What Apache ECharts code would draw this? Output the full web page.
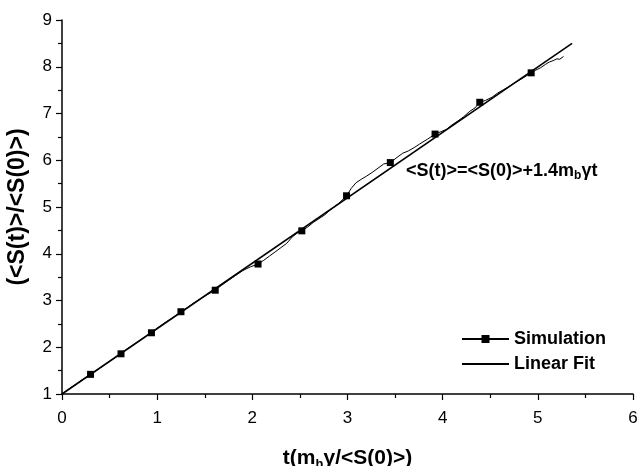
<!DOCTYPE html>
<html><head><meta charset="utf-8">
<script src="https://cdn.jsdelivr.net/npm/echarts@6/dist/echarts.min.js"></script>
<style>html,body{margin:0;padding:0;background:#fff}#c{width:639px;height:466px}</style>
</head><body><div id="c"></div>
<script>
// Simulation curve
const simT = [0,0.05,0.10,0.15,0.20,0.25,0.30,0.36,0.42,0.48,0.55,0.62,0.68,0.74,0.80,0.87,0.94,1.00,1.05,1.10,1.17,1.25,1.32,1.38,1.45,1.53,1.61,1.68,1.75,1.82,1.90,1.98,2.06,2.12,2.18,2.24,2.30,2.36,2.42,2.47,2.52,2.58,2.64,2.70,2.76,2.82,2.90,2.99,3.04,3.09,3.15,3.20,3.26,3.32,3.38,3.45,3.52,3.58,3.64,3.70,3.76,3.84,3.92,3.98,4.04,4.10,4.16,4.22,4.28,4.34,4.39,4.45,4.52,4.58,4.64,4.70,4.76,4.83,4.93,4.98,5.03,5.08,5.12,5.16,5.20,5.23,5.27];
const simS = [1.00,1.07,1.15,1.21,1.29,1.35,1.42,1.50,1.59,1.67,1.77,1.86,1.96,2.04,2.12,2.22,2.31,2.41,2.48,2.55,2.64,2.76,2.85,2.94,3.03,3.13,3.22,3.33,3.43,3.53,3.64,3.72,3.78,3.86,3.95,4.04,4.13,4.22,4.36,4.44,4.49,4.57,4.67,4.75,4.83,4.94,5.06,5.24,5.40,5.52,5.60,5.66,5.74,5.83,5.92,5.95,6.06,6.15,6.20,6.27,6.35,6.45,6.56,6.61,6.66,6.76,6.84,6.93,7.04,7.12,7.24,7.28,7.35,7.44,7.51,7.58,7.66,7.74,7.87,7.93,7.98,8.05,8.10,8.13,8.17,8.16,8.22];
// t values where the simulation carries a square marker
const markerT = [0.30,0.62,0.94,1.25,1.61,2.06,2.52,2.99,3.45,3.92,4.39,4.93];
// Linear fit endpoints
const fitT = [0, 5.36];
const fitS = [1.0, 8.50];
// Axis ticks
const xTicks = {min:0, max:6, interval:1};
const yTicks = {min:1, max:9, interval:1};

const F = '"Liberation Sans", Arial, sans-serif';
const simData = simT.map((t,i) => markerT.indexOf(t) >= 0 ? {value:[t, simS[i]]} : {value:[t, simS[i]], symbol:'none'});
const fitData = fitT.map((t,i) => [t, fitS[i]]);

const chart = echarts.init(document.getElementById('c'), null, {renderer:'canvas'});
const axisCommon = {
  axisLine:{show:true, lineStyle:{color:'#000', width:1.5}},
  axisTick:{show:true, inside:false, length:6, lineStyle:{color:'#000', width:1.2}},
  minorTick:{show:true, splitNumber:2, length:4, lineStyle:{color:'#000', width:1.2}},
  splitLine:{show:false},
  axisLabel:{color:'#000', fontFamily:F, fontSize:17}
};
chart.setOption({
  animation:false,
  backgroundColor:'#fff',
  grid:{left:62, right:6, top:20, bottom:72, containLabel:false, outerBoundsMode:'none'},
  xAxis:Object.assign({type:'value', min:xTicks.min, max:xTicks.max, interval:xTicks.interval,
    name:'{a|t(m}{s|h}{a|γ/<S(0)>)}', nameLocation:'middle', nameGap:52,
    nameTextStyle:{rich:{a:{fontFamily:F, fontWeight:'bold', fontSize:21, color:'#000'}, s:{fontFamily:F, fontWeight:'bold', fontSize:13, color:'#000', padding:[12,0,0,0]}}}
  }, axisCommon, {axisLabel:Object.assign({}, axisCommon.axisLabel, {margin:16, showMaxLabel:true})}),
  yAxis:Object.assign({type:'value', min:yTicks.min, max:yTicks.max, interval:yTicks.interval,
    name:'(<S(t)>/<S(0)>)', nameLocation:'middle', nameGap:33, nameRotate:90,
    nameTextStyle:{fontFamily:F, fontWeight:'bold', fontSize:23, color:'#000'}
  }, axisCommon, {axisLabel:Object.assign({}, axisCommon.axisLabel, {margin:10})}),
  legend:{
    orient:'vertical', left:456, top:325, itemWidth:47, itemHeight:10, itemGap:7,
    textStyle:{fontFamily:F, fontWeight:'bold', fontSize:18, color:'#000'},
    data:['Simulation','Linear Fit']
  },
  graphic:[{
    type:'text', left:406, top:162,
    style:{text:'{a|<S(t)>=<S(0)>+1.4m}{s|b}{a|γt}', rich:{a:{fontFamily:F, fontWeight:'bold', fontSize:18, fill:'#000'}, s:{fontFamily:F, fontWeight:'bold', fontSize:12, fill:'#000', padding:[10,0,0,0]}}}
  }],
  series:[
    {name:'Simulation', type:'line', data:simData, symbol:'rect', symbolSize:7, showSymbol:true,
     lineStyle:{color:'#000', width:1}, itemStyle:{color:'#000'}, z:3},
    {name:'Linear Fit', type:'line', data:fitData, symbol:'line', showSymbol:false, lineStyle:{color:'#000', width:1.6}, itemStyle:{color:'#000'}, z:2}
  ]
});
</script></body></html>
